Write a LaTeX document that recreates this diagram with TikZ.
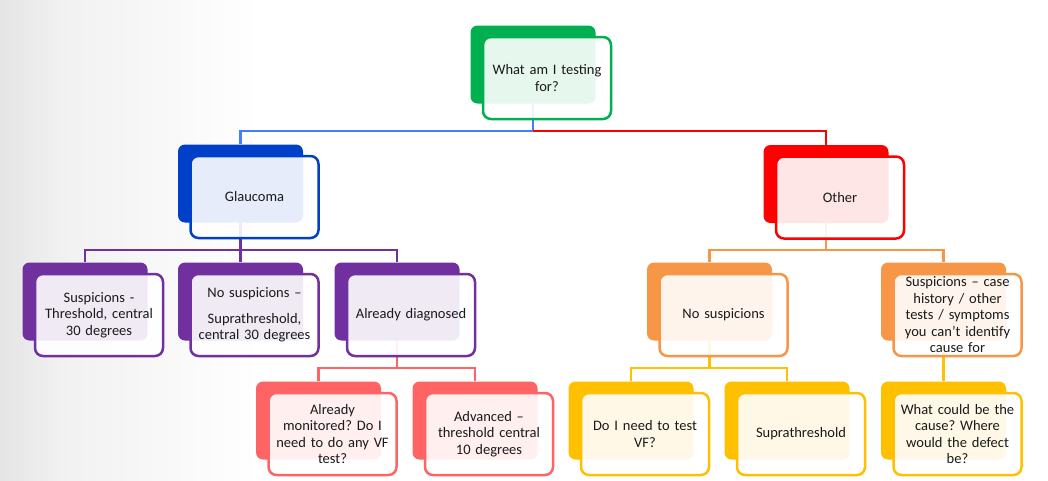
\documentclass[tikz,border=0pt]{standalone}
\usepackage{fontspec}
\setmainfont{Carlito}
\frenchspacing
\usetikzlibrary{calc}
\definecolor{cgreen}{HTML}{00B050}
\definecolor{cblue}{HTML}{0040C8}
\definecolor{cbluel}{HTML}{4080FF}
\definecolor{cpurple}{HTML}{7030A0}
\definecolor{csalmon}{HTML}{FF6464}
\definecolor{cred}{HTML}{FF0000}
\definecolor{corange}{HTML}{F79646}
\definecolor{cgold}{HTML}{FFC000}
\definecolor{ctext}{HTML}{1A1A1A}
\definecolor{cbg}{HTML}{E4E4E4}
\definecolor{cbgmid}{HTML}{F1F1F1}
\pgfdeclarelayer{bg}
\pgfdeclarelayer{conn}
\pgfdeclarelayer{front}
\pgfsetlayers{bg,conn,main,front}
\tikzset{
  backbox/.style={rounded corners=7pt, minimum width=125pt, minimum height=78pt, inner sep=0pt, fill=#1},
  frontbox/.style={draw=#1, line width=2.5pt, fill=white, fill opacity=0.9, text opacity=1,
    rounded corners=8pt, minimum width=128pt, minimum height=82pt, inner sep=1pt,
    text width=124pt, align=center, text=ctext, font=\fontsize{14.5}{16.5}\selectfont},
  connline/.style={draw=#1, line width=2.5pt}
}
\newcommand\boxpair[5]{%
  \node[backbox=#2] (#1b) at (#3,#4) {};
  \begin{pgfonlayer}{front}
  \node[frontbox=#2] (#1) at ([shift={(14,13.5)}]#1b.center) {#5};
  \end{pgfonlayer}}
\begin{document}
\begin{tikzpicture}[x=1pt,y=-1pt]
\useasboundingbox (0,0) rectangle (1048,480);
\begin{pgfonlayer}{bg}
\fill[white] (0,0) rectangle (1048,480);
\shade[left color=cbg, right color=cbgmid] (0,0) rectangle (60.5,480);
\shade[left color=cbgmid, right color=white] (60,0) rectangle (260,480);
\end{pgfonlayer}
\coordinate (lev1) at (0,131);
\coordinate (lev2) at (0,250);
\coordinate (lev3) at (0,368);

\boxpair{top}{cgreen}{533}{64.5}{What am I testing\\for?}
\boxpair{gla}{cblue}{240.5}{183.5}{Glaucoma}
\boxpair{oth}{cred}{826}{184}{Other}
\boxpair{sus}{cpurple}{85}{301.5}{Suspicions -\\Threshold, central\\30 degrees}
\boxpair{nos}{cpurple}{240.5}{301.5}{No suspicions –\\[9pt]Suprathreshold,\\central 30 degrees}
\boxpair{alr}{cpurple}{397}{301.5}{Already diagnosed}
\boxpair{mon}{csalmon}{318.5}{420.5}{Already\\monitored? Do I\\need to do any VF\\test?}
\boxpair{adv}{csalmon}{475}{420.5}{Advanced –\\threshold central\\10 degrees}
\boxpair{nso}{corange}{709.5}{301.5}{No suspicions}
\boxpair{cas}{corange}{943.5}{301.5}{Suspicions – case\\history / other\\tests / symptoms\\you can’t identify\\cause for}
\boxpair{dot}{cgold}{631}{420.5}{Do I need to test\\VF?}
\boxpair{sup}{cgold}{787}{420.5}{Suprathreshold}
\boxpair{wha}{cgold}{943.5}{420.5}{What could be the\\cause? Where\\would the defect\\be?}

\begin{pgfonlayer}{conn}
\draw[connline=cbluel] (topb.south) -- (topb.south |- lev1) -| (glab.north);
\draw[connline=cred] (topb.south |- lev1) -| (othb.north);
\draw[connline=cpurple] (glab.south) -- (glab.south |- lev2) -| (susb.north);
\draw[connline=cpurple] (glab.south |- lev2) -| (nosb.north);
\draw[connline=cpurple] (glab.south |- lev2) -| (alrb.north);
\draw[connline=csalmon] (alrb.south) -- (alrb.south |- lev3) -| (monb.north);
\draw[connline=csalmon] (alrb.south |- lev3) -| (advb.north);
\draw[connline=corange] (othb.south) -- (othb.south |- lev2) -| (nsob.north);
\draw[connline=corange] (othb.south |- lev2) -| (casb.north);
\draw[connline=cgold] (nsob.south) -- (nsob.south |- lev3) -| (dotb.north);
\draw[connline=cgold] (nsob.south |- lev3) -| (supb.north);
\draw[connline=cgold] (casb.south) -- (whab.north);
\end{pgfonlayer}
\end{tikzpicture}
\end{document}
